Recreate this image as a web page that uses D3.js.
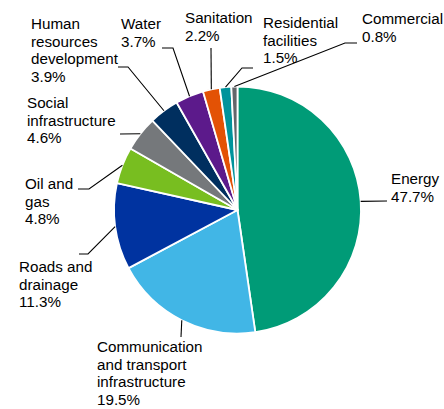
<!DOCTYPE html>
<html>
<head>
<meta charset="utf-8">
<script src="https://cdn.jsdelivr.net/npm/d3@7"></script>
<style>
  body { margin: 0; background: #fff; }
  text { font-family: "Liberation Sans", Arial, sans-serif; font-size: 15.2px; fill: #000; }
</style>
</head>
<body>
<div id="plot"></div>
<script>
// Chart data
const categories = ["Energy", "Communication and transport infrastructure", "Roads and drainage",
  "Oil and gas", "Social infrastructure", "Human resources development", "Water",
  "Sanitation", "Residential facilities", "Commercial"];
const shares = [47.7, 19.5, 11.3, 4.8, 4.6, 3.9, 3.7, 2.2, 1.5, 0.8];
const labelLines = [
  ["Energy"],
  ["Communication", "and transport", "infrastructure"],
  ["Roads and", "drainage"],
  ["Oil and", "gas"],
  ["Social", "infrastructure"],
  ["Human", "resources", "development"],
  ["Water"],
  ["Sanitation"],
  ["Residential", "facilities"],
  ["Commercial"]
];
const colors = ["#009b77", "#41b6e6", "#0033a0", "#78be20", "#75787b",
  "#002f5f", "#5c1a8b", "#e35205", "#00939b", "#63666a"];

// Label placement (x, first baseline, leader bend points)
const labelLayout = [
  { x: 391, y: 184, angle: 86, path: [[387, 201]] },
  { x: 97, y: 352, path: [[181, 337]] },
  { x: 19, y: 272, path: [[88, 254], [79, 254]] },
  { x: 25, y: 189, path: [[89, 189], [78, 189]] },
  { x: 27, y: 108, path: [[120, 134]] },
  { x: 31, y: 29, path: [[128, 67], [118, 67]] },
  { x: 121, y: 29, path: [[173, 48], [162, 48]] },
  { x: 185, y: 23, path: [[211, 48]] },
  { x: 263, y: 28, path: [[242, 68], [253, 68]] },
  { x: 362, y: 24, path: [[345, 43], [357, 43]] }
];

const width = 444, height = 409;
const cx = 237.5, cy = 210, radius = 123.5;
const lineH = 17.6;

const svg = d3.select("#plot").append("svg")
  .attr("width", width)
  .attr("height", height);

const data = categories.map((c, i) => ({ name: c, value: shares[i], i }));

const pie = d3.pie().value(d => d.value).sort(null);
const arcs = pie(data);
const arc = d3.arc().innerRadius(0).outerRadius(radius);

const g = svg.append("g").attr("transform", `translate(${cx},${cy})`);

g.selectAll("path.slice")
  .data(arcs)
  .enter().append("path")
  .attr("class", "slice")
  .attr("d", arc)
  .attr("fill", d => colors[d.data.i])
  .attr("stroke", "#fff")
  .attr("stroke-width", 1.8)
  .attr("stroke-linejoin", "round");

// Leader lines
arcs.forEach(d => {
  const lay = labelLayout[d.data.i];
  const a = lay.angle != null ? lay.angle * Math.PI / 180 : (d.startAngle + d.endAngle) / 2;
  const p0 = d3.pointRadial(a, radius);
  const pts = [[cx + p0[0], cy + p0[1]]].concat(lay.path);
  svg.append("path")
    .attr("d", d3.line()(pts))
    .attr("fill", "none")
    .attr("stroke", "#000")
    .attr("stroke-width", 1.1);
});

// Labels
arcs.forEach(d => {
  const lay = labelLayout[d.data.i];
  const lines = labelLines[d.data.i].concat([d3.format(".1f")(d.data.value) + "%"]);
  const t = svg.append("text").attr("x", lay.x).attr("y", lay.y);
  lines.forEach((l, k) => {
    t.append("tspan").attr("x", lay.x).attr("dy", k === 0 ? 0 : lineH).text(l);
  });
});
</script>
</body>
</html>
